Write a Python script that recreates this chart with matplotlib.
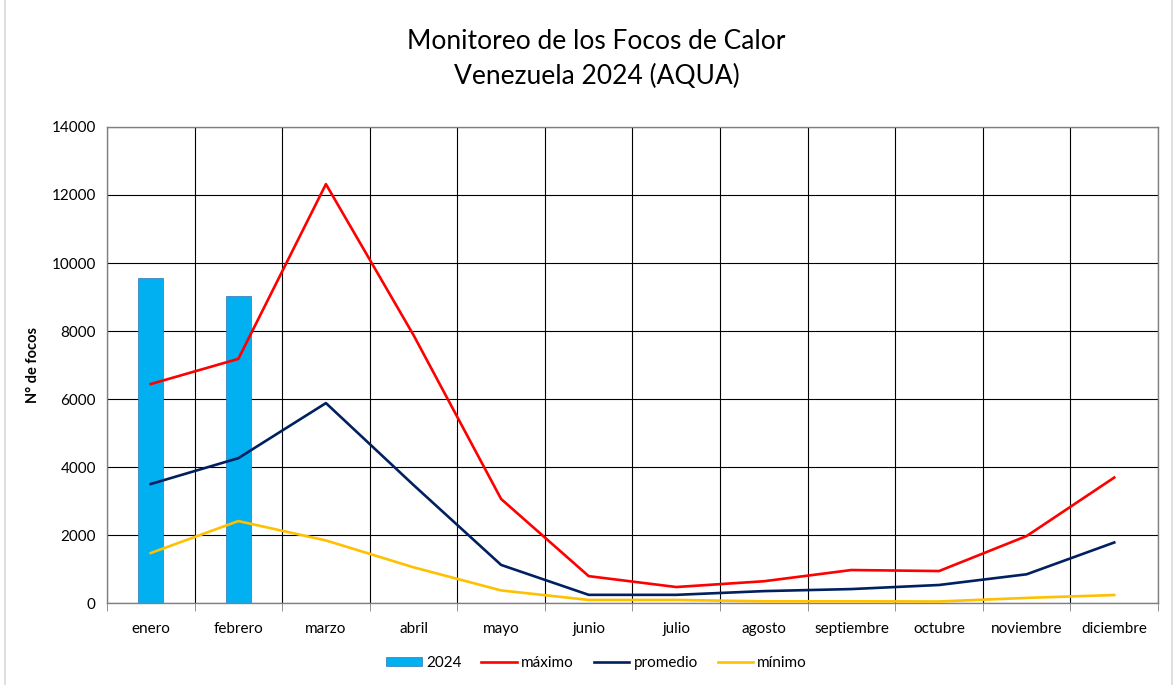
import matplotlib.pyplot as plt
import numpy as np
from matplotlib.lines import Line2D

meses = ['enero', 'febrero', 'marzo', 'abril', 'mayo', 'junio', 'julio',
         'agosto', 'septiembre', 'octubre', 'noviembre', 'diciembre']
focos_2024 = [9560, 9030]
maximo = [6440, 7180, 12320, 7880, 3060, 790, 470, 640, 970, 940, 1970, 3690]
promedio = [3500, 4260, 5880, 3470, 1120, 240, 240, 350, 410, 530, 845, 1780]
minimo = [1470, 2410, 1840, 1050, 370, 90, 90, 50, 50, 45, 150, 235]

plt.rcParams['font.family'] = ['Lato', 'DejaVu Sans']

fig = plt.figure(figsize=(11.74, 6.85), dpi=100)
ax = fig.add_axes([0.0911, 0.1197, 0.8953, 0.6949])

x = np.arange(len(meses))

barras = ax.bar(x[:len(focos_2024)], focos_2024, width=0.29, color='#00B0F0',
                edgecolor='#2E75B6', linewidth=0.5, label='2024', zorder=2)
l1, = ax.plot(x, maximo, color='#FF0000', lw=1.9, label='máximo', zorder=3)
l2, = ax.plot(x, promedio, color='#002060', lw=1.9, label='promedio', zorder=3)
l3, = ax.plot(x, minimo, color='#FFC000', lw=1.9, label='mínimo', zorder=3)

ax.set_xlim(-0.5, len(meses) - 0.5)
ax.set_ylim(0, 14000)
ax.set_yticks(np.arange(0, 14001, 2000))
ax.set_xticks(x)
ax.set_xticklabels(meses, fontsize=11)
ax.tick_params(axis='x', which='major', length=0, pad=14)
ax.set_xticks(np.arange(-0.5, len(meses), 1), minor=True)
ax.tick_params(axis='x', which='minor', length=6, color='#808080')
ax.tick_params(axis='y', length=0, labelsize=11, pad=8)

ax.grid(True, axis='y', color='black', lw=0.8, zorder=0)
ax.grid(True, axis='x', which='minor', color='black', lw=0.8, zorder=0)
ax.set_axisbelow(True)
for s in ax.spines.values():
    s.set_color('#808080')
    s.set_linewidth(1.0)

ax.set_ylabel('N° de focos', fontsize=10.5, fontweight='bold', labelpad=8)

fig.text(0.508, 0.94, 'Monitoreo de los Focos de Calor', ha='center',
         va='center', fontsize=19)
fig.text(0.508, 0.888, 'Venezuela 2024 (AQUA)', ha='center',
         va='center', fontsize=19)

ax.legend(handles=[barras, l1, l2, l3], loc='center',
          bbox_to_anchor=(0.466, -0.126), ncol=4, frameon=False,
          fontsize=11, handlelength=2.3, handleheight=0.5,
          columnspacing=1.3, handletextpad=0.3)

# chart border
fig.add_artist(Line2D([0.0045, 0.0045], [0, 1], color='#D9D9D9', lw=1.2))
fig.add_artist(Line2D([0.998, 0.998], [0, 1], color='#D9D9D9', lw=1.2))

fig.savefig('out.png', dpi=100)
